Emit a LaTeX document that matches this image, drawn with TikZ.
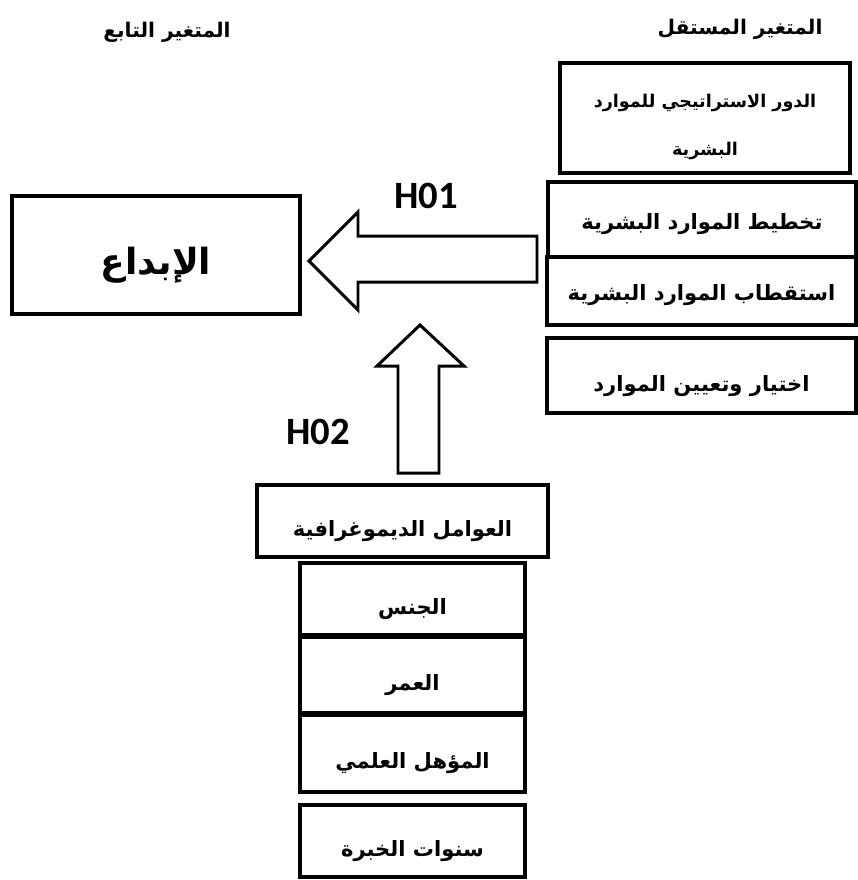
\documentclass[tikz,border=0pt]{standalone}
\usepackage{fontspec}
\newfontfamily\arabicfont[Script=Arabic]{DejaVu Sans}
\newfontfamily\hypfont{Carlito}
\TeXXeTstate=1
\newcommand{\artext}[1]{\beginR #1\endR}
\newcommand{\boxtext}[2][-5.5pt]{\raisebox{#1}[\height][\depth]{\beginR #2\endR}}

\tikzset{variable box/.style={draw,line width=2.2pt,inner sep=0cm,font=\arabicfont\bfseries\fontsize{12}{14}\selectfont},
header/.style={font=\arabicfont\bfseries\fontsize{11.5}{13}\selectfont,inner sep=0cm},
box text/.style={font=\arabicfont\bfseries\fontsize{10}{27}\selectfont,align=center,inner sep=0cm},
main box/.style={draw,line width=2.2pt,inner sep=0cm,font=\arabicfont\bfseries\fontsize{20.5}{24}\selectfont},
hyp label/.style={font=\hypfont\bfseries\fontsize{22}{26}\selectfont,inner sep=0cm},
block arrow/.style={line width=1.7pt,line join=miter,fill=white}}

\begin{document}
\begin{tikzpicture}[x=0.02cm,y=-0.02cm]
\useasboundingbox (0,0) rectangle (858,880);

%% Coordinates of nodes.
\coordinate (hIndep) at (740,29);
\coordinate (hDep) at (167,32);
\coordinate (nRole) at (705,118);
\coordinate (nRoleText) at (705,127);
\coordinate (nPlan) at (702,219.5);
\coordinate (nRecruit) at (701.5,291);
\coordinate (nSelect) at (701.5,375.5);
\coordinate (nCreat) at (156,255);
\coordinate (nDemo) at (402.5,521);
\coordinate (nGender) at (412.5,599);
\coordinate (nAge) at (412.5,675);
\coordinate (nQual) at (412.5,753.5);
\coordinate (nExp) at (412.5,841);
\coordinate (hOne) at (426,196);
\coordinate (hTwo) at (318,432);

%% arrow coordinates
\coordinate (aOneTip) at (309,261);
\coordinate (aOneEnd) at (537,259);
\coordinate (aTwoTip) at (420,325);
\coordinate (aTwoEnd) at (419,473);

%% block arrows
\draw [block arrow] (aOneTip) -- (358,212) -- (358,236) -- (aOneEnd |- 0,236)
  -- (aOneEnd |- 0,282) -- (358,282) -- (358,310) -- cycle;
\draw [block arrow] (aTwoTip) -- (377,366) -- (398,366) -- (398,473)
  -- (439,473) -- (439,366) -- (464,366) -- cycle;

%% headers
\node [header] (indep) at (hIndep) {\artext{المتغير المستقل}};
\node [header] (dep) at (hDep) {\artext{المتغير التابع}};

%% independent variable boxes
\node [variable box,minimum width=5.8cm,minimum height=2.2cm] (role) at (nRole) {};
\node [box text] (roleText) at (nRoleText) {\artext{الدور الاستراتيجي للموارد}\\\artext{البشرية}};
\node [variable box,minimum width=6.16cm,minimum height=1.5cm] (plan) at (nPlan) {\boxtext[-2.5pt]{تخطيط الموارد البشرية}};
\node [variable box,minimum width=6.18cm,minimum height=1.36cm] (recruit) at (nRecruit) {\boxtext[-2.5pt]{استقطاب الموارد البشرية}};
\node [variable box,minimum width=6.18cm,minimum height=1.5cm] (select) at (nSelect) {\boxtext[-6pt]{اختيار وتعيين الموارد}};

%% dependent variable box
\node [main box,minimum width=5.76cm,minimum height=2.36cm] (creat) at (nCreat) {\boxtext[-6pt]{الإبداع}};

%% demographic boxes
\node [variable box,minimum width=5.82cm,minimum height=1.44cm] (demo) at (nDemo) {\boxtext{العوامل الديموغرافية}};
\node [variable box,minimum width=4.5cm,minimum height=1.44cm] (gender) at (nGender) {\boxtext{الجنس}};
\node [variable box,minimum width=4.5cm,minimum height=1.52cm] (age) at (nAge) {\boxtext{العمر}};
\node [variable box,minimum width=4.5cm,minimum height=1.54cm] (qual) at (nQual) {\boxtext{المؤهل العلمي}};
\node [variable box,minimum width=4.5cm,minimum height=1.44cm] (exp) at (nExp) {\boxtext{سنوات الخبرة}};

%% hypothesis labels
\node [hyp label] (hypOne) at (hOne) {H01};
\node [hyp label] (hypTwo) at (hTwo) {H02};

\end{tikzpicture}
\end{document}
